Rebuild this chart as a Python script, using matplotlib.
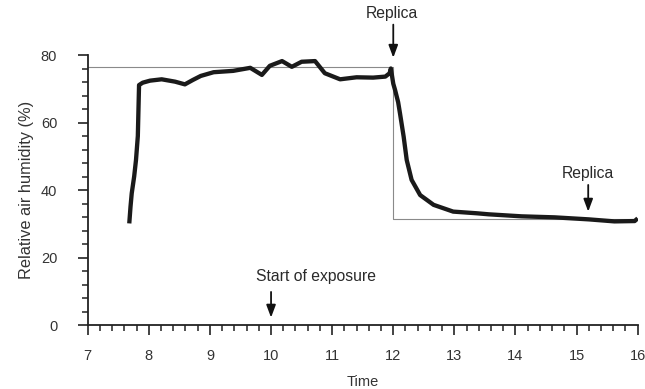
import matplotlib
matplotlib.use("Agg")
import matplotlib.pyplot as plt
from matplotlib.ticker import MultipleLocator

plt.rcParams['font.family'] = ['Liberation Sans', 'DejaVu Sans']

# Measured humidity curve
time = [7.68, 7.70, 7.72, 7.76, 7.79, 7.82, 7.84, 7.90, 8.02, 8.21, 8.43, 8.59,
        8.72, 8.85, 9.06, 9.38, 9.66, 9.85, 9.98, 10.18, 10.34, 10.50, 10.72,
        10.88, 11.13, 11.40, 11.67, 11.87, 11.94, 11.96, 12.00, 12.03, 12.08,
        12.11, 12.17, 12.22, 12.30, 12.44, 12.66, 12.98, 13.37, 13.56, 14.10,
        14.64, 15.20, 15.62, 15.95, 16.00]
humidity = [30.1, 35.0, 39.0, 44.0, 48.9, 56.0, 71.1, 71.8, 72.4, 72.8, 72.1, 71.3,
            72.6, 73.8, 74.9, 75.3, 76.2, 74.1, 76.8, 78.2, 76.5, 78.0, 78.2,
            74.6, 72.8, 73.4, 73.3, 73.6, 74.6, 76.0, 71.5, 69.6, 66.0,
            62.7, 55.8, 48.9, 43.0, 38.5, 35.6, 33.6, 33.1, 32.8, 32.2,
            31.9, 31.3, 30.7, 30.8, 31.6]

# Idealised step (thin grey line)
step_time = [7.0, 12.0, 12.0, 16.0]
step_hum = [76.5, 76.5, 31.3, 31.3]

# Annotations
ann_labels = ["Replica", "Replica", "Start of exposure"]
ann_x = [12.0, 15.19, 10.0]
ann_text_x = [11.98, 15.19, 10.74]
ann_text_y = [92.4, 45.0, 14.3]
ann_tail_y = [89.0, 41.5, 9.8]
ann_head_y = [79.2, 33.6, 2.2]

fig = plt.figure(figsize=(6.45, 3.89), dpi=100)
ax = fig.add_axes([0.136, 0.1645, 0.8527, 0.6941])

ax.plot(step_time, step_hum, color='#8a8a8a', lw=0.8, zorder=2)
ax.plot(time, humidity, color='#1a1a1a', lw=3.1, solid_joinstyle='round',
        solid_capstyle='butt', zorder=3)

for lab, x, tx, ty, t0, t1 in zip(ann_labels, ann_x, ann_text_x, ann_text_y,
                                   ann_tail_y, ann_head_y):
    ax.text(tx, ty, lab, ha='center', va='center', fontsize=11.3,
            color='#2a2a2a', clip_on=False)
    ax.annotate('', xy=(x, t1), xytext=(x, t0),
                arrowprops=dict(arrowstyle='-|>,head_length=0.75,head_width=0.28',
                                color='#111111', lw=1.3, shrinkA=0, shrinkB=0),
                annotation_clip=False)

ax.set_xlim(7, 16)
ax.set_ylim(0, 80)
ax.spines['top'].set_visible(False)
ax.spines['right'].set_visible(False)
for s in ('left', 'bottom'):
    ax.spines[s].set_linewidth(1.3)
    ax.spines[s].set_color('#222222')

ax.xaxis.set_major_locator(MultipleLocator(1))
ax.xaxis.set_minor_locator(MultipleLocator(0.2))
ax.yaxis.set_major_locator(MultipleLocator(20))
ax.yaxis.set_minor_locator(MultipleLocator(4))
ax.tick_params(which='major', direction='out', length=7, width=1.2,
               color='#222222', labelsize=10.5, labelcolor='#333333')
ax.tick_params(which='minor', direction='out', length=4, width=1.1,
               color='#222222')
ax.tick_params(axis='x', which='major', pad=10)
ax.tick_params(axis='y', which='major', pad=15)

ax.set_xlabel('Time', fontsize=10.5, color='#333333', labelpad=9)
ax.set_ylabel('Relative air humidity (%)', fontsize=11.8, color='#333333',
              labelpad=5)

fig.savefig('out.png', dpi=100)
